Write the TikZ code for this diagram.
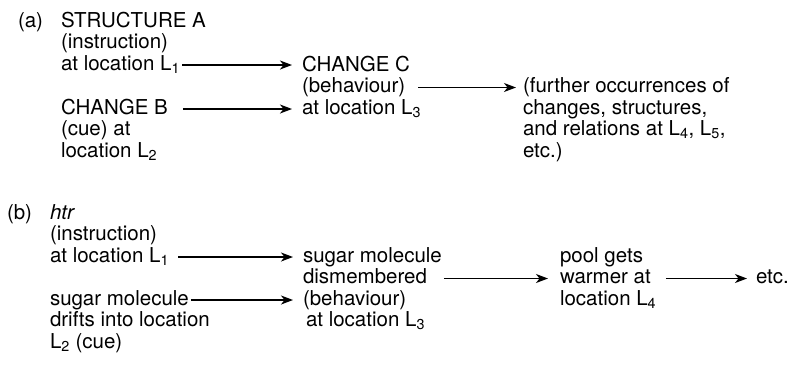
\documentclass[tikz,border=0pt]{standalone}
\usepackage{fontspec}
\setmainfont{TeX Gyre Heros}
\usetikzlibrary{arrows.meta}
\begin{document}
\begin{tikzpicture}[x=1bp,y=-1bp,
  txt/.style={anchor=base west, inner sep=0pt, outer sep=0pt,
    font=\fontsize{20.5bp}{21.5bp}\selectfont, text height=14bp, text depth=4bp},
  arr/.style={-{Stealth[length=12bp,width=9bp,inset=3.5bp]}, line width=1.25bp}]
\useasboundingbox (0,0) rectangle (792,378);
% (a)
\node[txt] (la) at (18,27) {(a)};
\node[txt] (a1) at (61,27) {STRUCTURE A};
\node[txt] (a2) at (61,48.5) {(instruction)};
\node[txt] (a3) at (61,70) {at location L\textsubscript{1}};
\node[txt] (c1) at (302,71) {CHANGE C};
\node[txt] (c2) at (302,92.5) {(behaviour)};
\node[txt] (c3) at (302,114) {at location L\textsubscript{3}};
\node[txt] (b1) at (61,114) {CHANGE B};
\node[txt] (b2) at (61,135.5) {(cue) at};
\node[txt] (b3) at (61,157) {location L\textsubscript{2}};
\node[txt] (f1) at (523,92.5) {(further occurrences of};
\node[txt] (f2) at (523,114) {changes, structures,};
\node[txt] (f3) at (523,135.5) {and relations at L\textsubscript{4}, L\textsubscript{5},};
\node[txt] (f4) at (523,157) {etc.)};
\draw[arr, shorten <=2bp, shorten >=10bp] (a3.east) -- (a3.east -| c1.west);
\draw[arr, shorten <=15bp, shorten >=10bp] (b1.east) -- (b1.east -| c3.west);
\draw[arr, shorten <=13bp, shorten >=7bp] (c2.east) -- (c2.east -| f1.west);
% (b)
\node[txt] (lb) at (7,219) {(b)};
\node[txt] (h1) at (50,219) {\itshape htr};
\node[txt] (h2) at (50,240.5) {(instruction)};
\node[txt] (h3) at (50,262) {at location L\textsubscript{1}};
\node[txt] (d1) at (303,262) {sugar molecule};
\node[txt] (d2) at (303,283.5) {dismembered};
\node[txt] (d3) at (303,305) {(behaviour)};
\node[txt] (d4) at (306,326.5) {at location L\textsubscript{3}};
\node[txt] (s1) at (50,305) {sugar molecule};
\node[txt] (s2) at (50,326.5) {drifts into location};
\node[txt] (s3) at (50,348) {L\textsubscript{2} (cue)};
\node[txt] (e1) at (560,262) {pool gets};
\node[txt] (e2) at (560,283.5) {warmer at};
\node[txt] (e3) at (560,305) {location L\textsubscript{4}};
\node[txt] (etc) at (756,283.5) {etc.};
\draw[arr, shorten <=9bp, shorten >=10bp] (h3.east) -- (h3.east -| d1.west);
\draw[arr, shorten <=2bp, shorten >=10bp] (s1.east) -- (s1.east -| d3.west);
\draw[arr, shorten <=17bp, shorten >=12bp] (d2.east) -- (d2.east -| e2.west);
\draw[arr, shorten <=15bp, shorten >=9bp] (e2.east) -- (e2.east -| etc.west);
\end{tikzpicture}
\end{document}
